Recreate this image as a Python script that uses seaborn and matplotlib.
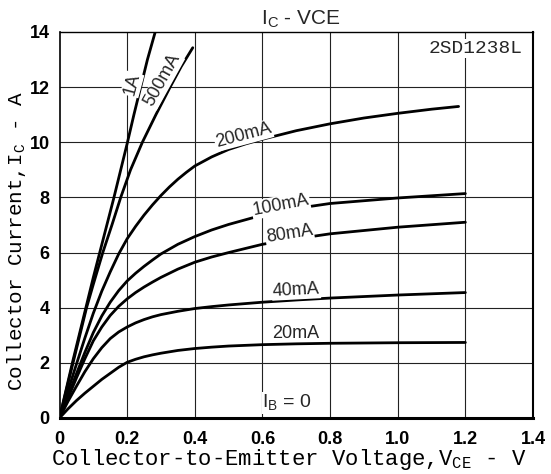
import numpy as np
import pandas as pd
import matplotlib
matplotlib.use("Agg")
import matplotlib.pyplot as plt
import seaborn as sns
from matplotlib import font_manager as fm

# ---------------- data ----------------
v_std = [0, 0.025, 0.05, 0.075, 0.1, 0.125, 0.15, 0.175, 0.2, 0.225, 0.25, 0.275, 0.3,
         0.35, 0.4, 0.45, 0.5, 0.6, 0.7, 0.8, 1.0, 1.2]
ic_20mA = [0, 0.33, 0.63, 0.9, 1.15, 1.4, 1.62, 1.84, 2.02, 2.13, 2.22, 2.29, 2.35,
           2.45, 2.52, 2.57, 2.61, 2.66, 2.69, 2.71, 2.73, 2.74]
ic_40mA = [0, 0.6, 1.15, 1.68, 2.15, 2.55, 2.88, 3.12, 3.3, 3.45, 3.57, 3.67, 3.75,
           3.87, 3.97, 4.04, 4.1, 4.2, 4.28, 4.35, 4.46, 4.55]
ic_80mA = [0, 0.72, 1.45, 2.15, 2.8, 3.3, 3.72, 4.05, 4.32, 4.55, 4.75, 4.93, 5.1,
           5.4, 5.65, 5.84, 6.0, 6.3, 6.5, 6.68, 6.92, 7.1]
ic_100mA = [0, 0.8, 1.6, 2.38, 3.1, 3.7, 4.2, 4.62, 4.97, 5.25, 5.5, 5.73, 5.95,
            6.3, 6.58, 6.82, 7.02, 7.36, 7.6, 7.78, 7.98, 8.14]

v_200mA = [0, 0.025, 0.05, 0.075, 0.1, 0.125, 0.15, 0.175, 0.2, 0.225, 0.25, 0.275, 0.3,
           0.325, 0.35, 0.375, 0.4, 0.45, 0.5, 0.55, 0.6, 0.7, 0.8, 0.9, 1.0, 1.1, 1.18]
ic_200mA = [0, 0.98, 1.95, 2.9, 3.8, 4.6, 5.3, 5.95, 6.5, 6.95, 7.36, 7.73, 8.07,
            8.38, 8.66, 8.91, 9.14, 9.47, 9.74, 9.94, 10.11, 10.42, 10.67, 10.88, 11.05, 11.2, 11.3]

v_500mA = [0, 0.02, 0.04, 0.06, 0.08, 0.1, 0.128, 0.155, 0.181, 0.21, 0.245, 0.285, 0.327, 0.36, 0.394]
ic_500mA = [0, 1.0, 2.0, 3.0, 4.0, 4.85, 6.0, 7.0, 8.0, 9.0, 10.0, 11.0, 12.0, 12.75, 13.43]

v_1A = [0, 0.02, 0.04, 0.06, 0.08, 0.1, 0.12, 0.14, 0.16, 0.18, 0.2, 0.22, 0.24, 0.26, 0.283]
ic_1A = [0, 1.05, 2.1, 3.1, 4.1, 5.1, 6.05, 7.0, 7.95, 8.95, 9.95, 11.0, 12.0, 13.0, 14.0]

curve_names = ["20mA", "40mA", "80mA", "100mA", "200mA", "500mA", "1A"]
x_ticks = [0, 0.2, 0.4, 0.6, 0.8, 1.0, 1.2, 1.4]
x_tick_labels = ["0", "0.2", "0.4", "0.6", "0.8", "1.0", "1.2", "1.4"]
y_ticks = [0, 2, 4, 6, 8, 10, 12, 14]

# ---------------- fonts ----------------
names = {f.name for f in fm.fontManager.ttflist}
narrow = "Liberation Sans Narrow" if "Liberation Sans Narrow" in names else "Liberation Sans"
mono = "Liberation Mono"
sans = "Liberation Sans"

sns.set_theme(style="white")
plt.rcParams["font.family"] = [sans, "DejaVu Sans"]
plt.rcParams["mathtext.fontset"] = "custom"
plt.rcParams["mathtext.rm"] = sans

series = [
    (v_std, ic_20mA), (v_std, ic_40mA), (v_std, ic_80mA), (v_std, ic_100mA),
    (v_200mA, ic_200mA), (v_500mA, ic_500mA), (v_1A, ic_1A),
]
frames = []
for name, (vx, iy) in zip(curve_names, series):
    frames.append(pd.DataFrame({"V": vx, "I": iy, "curve": name}))
df = pd.concat(frames, ignore_index=True)

fig = plt.figure(figsize=(5.51, 4.74), dpi=100)
ax = fig.add_axes([59.5 / 551, 56 / 474, (533 - 59.5) / 551, (418 - 32) / 474])

# grid
for xv in x_ticks[1:-1]:
    ax.axvline(xv, color="#222222", lw=0.8, zorder=1)
for yv in y_ticks[1:-1]:
    ax.axhline(yv, color="#222222", lw=0.8, zorder=1)

sns.lineplot(data=df, x="V", y="I", units="curve", estimator=None, color="black",
             lw=2.0, sort=False, ax=ax, zorder=3, legend=False)

ax.set_xlim(0, 1.4)
ax.set_ylim(0, 14)
ax.set_xticks(x_ticks)
ax.set_xticklabels(x_tick_labels)
ax.set_yticks(y_ticks)
ax.tick_params(length=0, labelsize=13)
ax.tick_params(axis="x", pad=9)
ax.tick_params(axis="y", pad=7)
for lab in ax.get_xticklabels() + ax.get_yticklabels():
    lab.set_fontfamily(narrow)
    lab.set_fontweight("bold")
    lab.set_color("black")

for side, w in {"top": 1.0, "right": 1.5, "left": 1.2, "bottom": 2.2}.items():
    ax.spines[side].set_visible(True)
    ax.spines[side].set_color("black")
    ax.spines[side].set_linewidth(w)

ax.set_xlabel("Collector-to-Emitter Voltage,V$_\\mathregular{CE}$ - V",
              fontfamily=mono, fontsize=16, color="black")
ax.set_ylabel("Collector Current,I$_\\mathregular{C}$ - A",
              fontfamily=mono, fontsize=15, color="black")
ax.xaxis.set_label_coords((289 - 59.5) / 473.5, (418 - 460) / 386)
ax.xaxis.label.set_va("center")
ax.yaxis.set_label_coords((17 - 59.5) / 473.5, (418 - 241) / 386)
ax.yaxis.label.set_va("center")

box = dict(fc="white", ec="none", pad=0.6)
labels = [
    ("1A", 0.215, 12.1, 75),
    ("500mA", 0.305, 12.25, 61),
    ("200mA", 0.544, 10.25, 15),
    ("100mA", 0.654, 7.72, 11),
    ("80mA", 0.680, 6.68, 9),
    ("40mA", 0.700, 4.64, 3),
    ("20mA", 0.698, 3.08, 0),
]
for txt, xv, yv, rot in labels:
    ax.text(xv, yv, txt, fontsize=13, fontfamily=sans, rotation=rot,
            ha="center", va="center", rotation_mode="anchor", bbox=box, zorder=4)

ax.text(0.6, 0.55, "I$_\\mathregular{B}$ = 0", fontsize=14, fontfamily=sans,
        ha="left", va="center", bbox=box, zorder=4)
ax.text(1.229, 13.4, "2SD1238L", fontsize=14, fontfamily=mono,
        ha="center", va="center", bbox=box, zorder=4)

fig.text(301 / 551, 1 - 19 / 474, "I$_\\mathregular{C}$ - VCE", fontsize=15,
         fontfamily=narrow, ha="center", va="center")

fig.savefig("out.png", dpi=100)
